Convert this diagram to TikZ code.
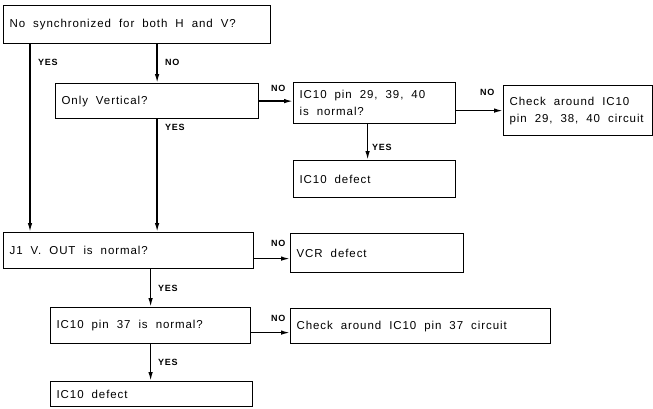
\documentclass[tikz,border=0pt]{standalone}
\usepackage{fontspec}
\setmainfont{Liberation Sans}[LetterSpace=8]
\usetikzlibrary{arrows.meta}
\newcommand\boxfnt{\fontsize{11.5}{17}\selectfont}
\newcommand\widegaps{\spaceskip=8pt plus 1pt\relax\xspaceskip=8pt plus 1pt\relax}
\begin{document}
\begin{tikzpicture}[x=1pt,y=-1pt,
  box/.style={draw, line width=1.2pt, anchor=north west, inner xsep=6pt, inner ysep=0pt, align=left, font=\boxfnt, execute at begin node=\widegaps},
  arr/.style={line width=1.4pt, -{Latex[length=9pt,width=4.5pt]}},
  lab/.style={anchor=west, inner sep=0pt, font=\fontsize{9}{9}\selectfont\bfseries}]
\useasboundingbox (0,0) rectangle (653,408);
\node[box, text width=255pt, minimum height=38pt] (a) at (3,5) {No synchronized for both H and V?};
\node[box, text width=191pt, minimum height=35pt] (b) at (55,83) {Only Vertical?};
\node[box, text width=150pt, minimum height=41pt] (c) at (293,82) {IC10 pin 29, 39, 40\\is normal?};
\node[box, text width=137pt, minimum height=50pt] (d) at (503,85) {Check around IC10\\pin 29, 38, 40 circuit};
\node[box, text width=150pt, minimum height=37pt] (e) at (293,160) {IC10 defect};
\node[box, text width=238pt, minimum height=36pt] (j) at (3,232) {J1 V. OUT is normal?};
\node[box, text width=161pt, minimum height=39pt] (f) at (290,233) {VCR defect};
\node[box, text width=248pt, minimum height=35pt] (h) at (290,308) {Check around IC10 pin 37 circuit};
\node[box, text width=188pt, minimum height=36pt] (g) at (50,307) {IC10 pin 37 is normal?};
\node[box, text width=190pt, minimum height=25pt] (i) at (50,381) {IC10 defect};

\draw[arr] ([xshift=27pt]a.south west) -- ([xshift=27pt]j.north west);
\draw[arr] (a.south -| b.north) -- (b.north);
\draw[arr] (b.south) -- (b.south |- j.north);
\draw[arr] (b.east) -- (b.east -| c.west);
\draw[arr] (c.east |- d.west) -- (d.west);
\draw[arr] ([xshift=-7pt]c.south) -- ([xshift=-7pt]e.north);
\draw[arr] ([yshift=-8pt]j.east) -- ([yshift=-8pt]j.east -| f.west);
\draw[arr] (g.north |- j.south) -- (g.north);
\draw[arr] ([yshift=-7pt]g.east) -- ([yshift=-7pt]g.east -| h.west);
\draw[arr] (g.south) -- (g.south |- i.north);

\node[lab] (l1) at (38,62) {YES};
\node[lab] (l2) at (165,62) {NO};
\node[lab] (l3) at (165,127) {YES};
\node[lab] (l4) at (271,88) {NO};
\node[lab] (l5) at (480,92) {NO};
\node[lab] (l6) at (372,147) {YES};
\node[lab] (l7) at (271,243) {NO};
\node[lab] (l8) at (158,288) {YES};
\node[lab] (l9) at (271,318) {NO};
\node[lab] (l10) at (158,362) {YES};
\end{tikzpicture}
\end{document}
